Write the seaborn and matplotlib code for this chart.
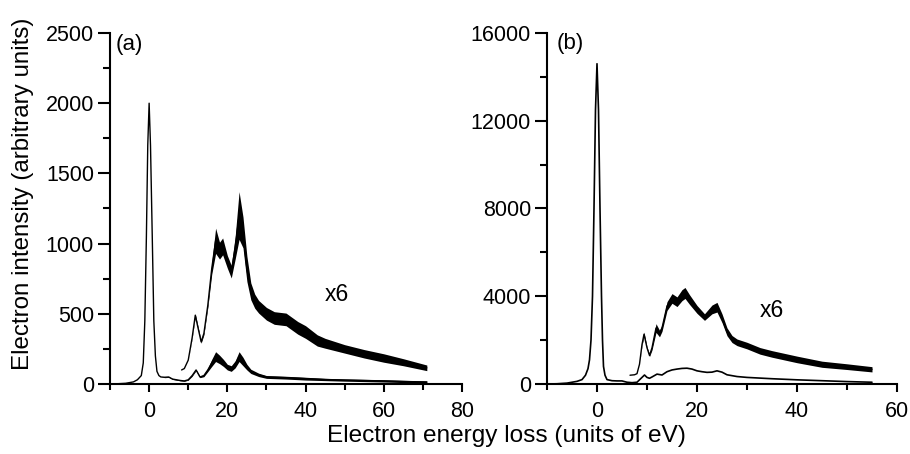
import seaborn as sns
import matplotlib.pyplot as plt
import numpy as np
from matplotlib.ticker import MultipleLocator

# panel (a): zero-loss + loss spectrum, and the x6 magnified trace
energy_a = [-10, -8, -6, -4, -3, -2, -1.5, -1.1, -0.7, -0.35, 0, 0.35, 0.8, 1.2, 1.6, 2, 2.5, 3,
            4, 5, 6, 7, 8, 9, 10, 11, 12, 13, 14, 15, 16, 17, 18, 19, 20, 21, 22, 23, 24, 25, 26,
            28, 30, 35, 40, 45, 50, 55, 60, 65, 71]
intensity_a = [0, 2, 5, 15, 30, 60, 150, 450, 1050, 1700, 2000, 1700, 1050, 450, 200, 90, 60, 50,
               48, 50, 35, 30, 25, 22, 30, 60, 100, 50, 60, 100, 150, 195, 175, 150, 120, 110, 140,
               195, 160, 120, 90, 65, 50, 45, 38, 32, 28, 25, 22, 18, 14]
noise_a = [0, 0, 0, 0, 0, 0, 0, 0, 0, 0, 0, 0, 0, 0, 0, 0, 0, 0,
           3, 3, 3, 3, 3, 3, 3, 5, 5, 5, 8, 12, 25, 35, 30, 25, 20, 20, 25,
           35, 30, 20, 15, 12, 10, 10, 10, 8, 8, 8, 8, 8, 8]

energy_a_x6 = [8.3, 9, 10, 11, 11.8, 12.5, 13.3, 14, 15, 16, 17, 18, 18.8, 20, 21, 22, 23, 24, 25,
               26, 27, 28, 30, 32, 35, 38, 40, 43, 45, 50, 55, 60, 65, 71]
intensity_a_x6 = [100, 110, 170, 330, 490, 400, 300, 360, 560, 820, 1020, 950, 980, 870, 800, 970,
                  1200, 1080, 820, 660, 590, 550, 500, 470, 460, 400, 370, 310, 290, 250, 215, 185,
                  155, 115]
noise_a_x6 = [0, 0, 0, 5, 10, 10, 10, 10, 15, 40, 90, 60, 60, 45, 45, 80, 170, 110, 90, 60, 50, 45,
              45, 45, 45, 45, 45, 40, 35, 30, 30, 30, 25, 20]

# panel (b)
energy_b = [-10, -8, -6, -4, -3, -2.3, -1.8, -1.5, -1.2, -0.9, -0.6, -0.3, 0, 0.3, 0.6, 0.9, 1.1,
            1.3, 1.6, 2, 3, 4, 5, 6, 7, 8, 9, 9.5, 10, 10.5, 11, 12, 13, 14, 15, 16, 17, 18, 19,
            20, 21, 22, 23, 24, 25, 26, 27, 28, 30, 35, 40, 45, 50, 55]
intensity_b = [0, 10, 40, 120, 200, 400, 700, 1100, 2000, 4000, 8000, 12500, 14600, 12500, 8000,
               4000, 2000, 800, 400, 200, 150, 140, 140, 80, 60, 80, 300, 410, 300, 260, 320, 450,
               410, 560, 640, 680, 710, 720, 680, 600, 560, 530, 540, 600, 540, 420, 380, 340,
               300, 240, 190, 150, 110, 80]

energy_b_x6 = [6.6, 7.5, 8, 8.5, 9, 9.4, 10, 10.5, 11, 11.8, 12.5, 13, 14, 15, 16, 17, 17.6, 18.5,
               20, 21.5, 23, 24, 25, 26, 27, 28, 30, 32.6, 35, 40, 45, 50, 55]
intensity_b_x6 = [400, 420, 470, 900, 1800, 2270, 1650, 1300, 1650, 2550, 2300, 2550, 3550, 3900,
                  3750, 4050, 4150, 3850, 3400, 3050, 3400, 3500, 3000, 2380, 2050, 1900, 1750,
                  1510, 1370, 1120, 900, 790, 670]
noise_b_x6 = [0, 0, 0, 0, 50, 100, 50, 50, 100, 200, 150, 150, 200, 220, 220, 250, 250, 220, 180,
              150, 200, 220, 200, 180, 160, 150, 150, 150, 150, 150, 140, 130, 120]

sns.set_theme(style="ticks", rc={"text.color": "black", "axes.labelcolor": "black",
                                 "xtick.color": "black", "ytick.color": "black",
                                 "axes.edgecolor": "black"})
plt.rcParams['font.family'] = ['Liberation Sans', 'DejaVu Sans']

fig = plt.figure(figsize=(9.1, 4.54), dpi=100)
ax_a = fig.add_axes([0.1209, 0.1542, 0.3868, 0.7731])
ax_b = fig.add_axes([0.6011, 0.1542, 0.3846, 0.7731])


def draw(ax, x, y, noise, lw):
    if noise is not None:
        lo = np.array(y) - np.array(noise)
        hi = np.array(y) + np.array(noise)
        ax.fill_between(x, lo, hi, color="black", linewidth=0)
    sns.lineplot(x=x, y=y, ax=ax, color="black", linewidth=lw, estimator=None)


draw(ax_a, energy_a, intensity_a, noise_a, 1.0)
draw(ax_a, energy_a_x6, intensity_a_x6, noise_a_x6, 1.0)
draw(ax_b, energy_b, intensity_b, None, 1.2)
draw(ax_b, energy_b_x6, intensity_b_x6, noise_b_x6, 1.0)

ax_a.set_xlim(-10, 80)
ax_a.set_ylim(0, 2500)
ax_a.xaxis.set_major_locator(MultipleLocator(20))
ax_a.xaxis.set_minor_locator(MultipleLocator(10))
ax_a.yaxis.set_major_locator(MultipleLocator(500))
ax_a.yaxis.set_minor_locator(MultipleLocator(250))

ax_b.set_xlim(-10, 60)
ax_b.set_ylim(0, 16000)
ax_b.xaxis.set_major_locator(MultipleLocator(20))
ax_b.xaxis.set_minor_locator(MultipleLocator(10))
ax_b.yaxis.set_major_locator(MultipleLocator(4000))
ax_b.yaxis.set_minor_locator(MultipleLocator(2000))

for ax in (ax_a, ax_b):
    sns.despine(ax=ax)
    ax.set(xlabel=None, ylabel=None)
    ax.spines['left'].set_linewidth(1.5)
    ax.spines['bottom'].set_linewidth(1.5)
    ax.tick_params(axis='both', which='both', direction='out', width=1.5, colors='black',
                   labelsize=15.5)
    ax.tick_params(axis='y', which='major', length=8.5, pad=3)
    ax.tick_params(axis='y', which='minor', length=5)
    ax.tick_params(axis='x', which='major', length=6, pad=6)
    ax.tick_params(axis='x', which='minor', length=4.5)

ax_a.text(-8.5, 2420, "(a)", fontsize=16, va="center", ha="left", color="black")
ax_b.text(-8, 15500, "(b)", fontsize=16, va="center", ha="left", color="black")
ax_a.text(45, 634, "x6", fontsize=16.5, va="center", ha="left", color="black")
ax_b.text(32.6, 3370, "x6", fontsize=16.5, va="center", ha="left", color="black")

fig.text(0.556, 0.027, "Electron energy loss (units of eV)", fontsize=17.6, ha="center",
         va="baseline", color="black")
fig.text(0.025, 0.574, "Electron intensity (arbitrary units)", fontsize=17.4, ha="center",
         va="center", rotation=90, color="black")

fig.savefig("out.png", dpi=100)
